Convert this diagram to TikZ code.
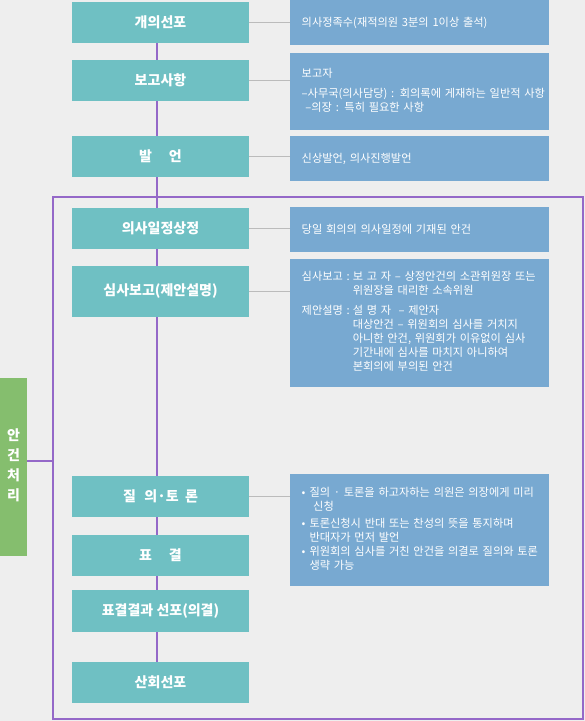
\documentclass[tikz,border=0pt]{standalone}
\usepackage{fontspec}
\setmainfont{Noto Sans CJK KR}
\definecolor{stepteal}{HTML}{6FC0C3}
\definecolor{noteblue}{HTML}{78A9D1}
\definecolor{taggreen}{HTML}{85BE6E}
\definecolor{flowpurple}{HTML}{9468C8}
\definecolor{linkgray}{HTML}{BBBBBB}
\definecolor{pagegray}{HTML}{EEEEEE}
\begin{document}
\begin{tikzpicture}[
  stepbox/.style={fill=stepteal,text=white,minimum width=177bp,minimum height=41bp,inner sep=0pt,font=\fontsize{14bp}{17bp}\selectfont\bfseries},
  notebox/.style={fill=noteblue,text=white,minimum height=45bp,text width=235.6bp,inner xsep=11.7bp,inner ysep=0pt,align=left,font=\fontsize{11.2bp}{14bp}\selectfont},
  tagbox/.style={fill=taggreen,text=white,minimum width=27bp,minimum height=178bp,inner sep=0pt,font=\fontsize{14bp}{20bp}\selectfont\bfseries},
  flow/.style={flowpurple,line width=1.8bp},
  link/.style={linkgray,line width=1.2bp}]
  \path[use as bounding box,fill=pagegray] (0,0) rectangle (585bp,721bp);
  \node (Group) at (318bp,263bp) [draw=flowpurple,line width=1.8bp,minimum width=530bp,minimum height=522bp,inner sep=0pt] {};
  \node (Tag) at (13.5bp,254bp) [tagbox] {\raisebox{4bp}{\begin{tabular}{@{}c@{}}안\\건\\처\\리\end{tabular}}};
  \coordinate (TagIn) at (53bp,260.3bp);
  \node (Open) at (160.5bp,698.5bp) [stepbox] {개의선포};
  \node (Report) at (160.5bp,640.5bp) [stepbox] {보고사항};
  \node (Speech) at (160.5bp,564.5bp) [stepbox] {발\hspace{1.2em}언};
  \node (Agenda) at (160.5bp,492.5bp) [stepbox] {의사일정상정};
  \node (Review) at (160.5bp,429.5bp) [stepbox,minimum height=51bp] {심사보고(제안설명)};
  \node (Debate) at (160.5bp,224.5bp) [stepbox] {질\hspace{0.6em}의·토\hspace{0.45em}론};
  \node (Vote) at (160.5bp,165.5bp) [stepbox] {표\hspace{1.2em}결};
  \node (Result) at (160.5bp,110bp) [stepbox,minimum height=42bp] {표결결과 선포(의결)};
  \node (Close) at (160.5bp,38.5bp) [stepbox] {산회선포};
  \node (Open') at (419.5bp,698.5bp) [notebox] {의사정족수(재적의원 3분의 1이상 출석)};
  \node (Report') at (419.5bp,629.5bp) [notebox,minimum height=77bp] {\begin{tabular}{@{}l@{}}
    보고자\\[6bp]
    –사무국(의사담당) : 회의록에 게재하는 일반적 사항\\
    \ –의장 : 특히 필요한 사항
  \end{tabular}};
  \node (Speech') at (419.5bp,562.5bp) [notebox] {신상발언, 의사진행발언};
  \node (Agenda') at (419.5bp,491.5bp) [notebox] {당일 회의의 의사일정에 기재된 안건};
  \node (Review') at (419.5bp,398bp) [notebox,minimum height=128bp] {\begin{tabular}{@{}l@{\hspace{3bp}}l@{}}
    심사보고 : & 보 고 자 – 상정안건의 소관위원장 또는\\
    & 위원장을 대리한 소속위원\\[6bp]
    제안설명 : & 설 명 자 \ – 제안자\\
    & 대상안건 – 위원회의 심사를 거치지\\
    & 아니한 안건, 위원회가 이유없이 심사\\
    & 기간내에 심사를 마치지 아니하여\\
    & 본회의에 부의된 안건
  \end{tabular}};
  \node (Debate') at (419.5bp,191bp) [notebox,minimum height=112bp] {\begin{tabular}{@{}l@{\hspace{4bp}}l@{}}
    • & 질의 · 토론을 하고자하는 의원은 의장에게 미리\\
    & \ 신청\\[3bp]
    • & 토론신청시 반대 또는 찬성의 뜻을 통지하며\\
    & 반대자가 먼저 발언\\
    • & 위원회의 심사를 거친 안건을 의결로 질의와 토론\\
    & 생략 가능
  \end{tabular}};
  \foreach \a/\b in {Open/Report,Report/Speech,Speech/Agenda,Agenda/Review,Review/Debate,Debate/Vote,Vote/Result,Result/Close}
    \draw [flow] ([xshift=-3.5bp]\a.south) -- ([xshift=-3.5bp]\b.north);
  \foreach \a in {Open,Report,Speech,Agenda,Review,Debate}
    \draw [link] (\a.east) -- (\a.east -| \a'.west);
  \draw [flow] (Tag.east |- TagIn) -- (TagIn);
\end{tikzpicture}
\end{document}
